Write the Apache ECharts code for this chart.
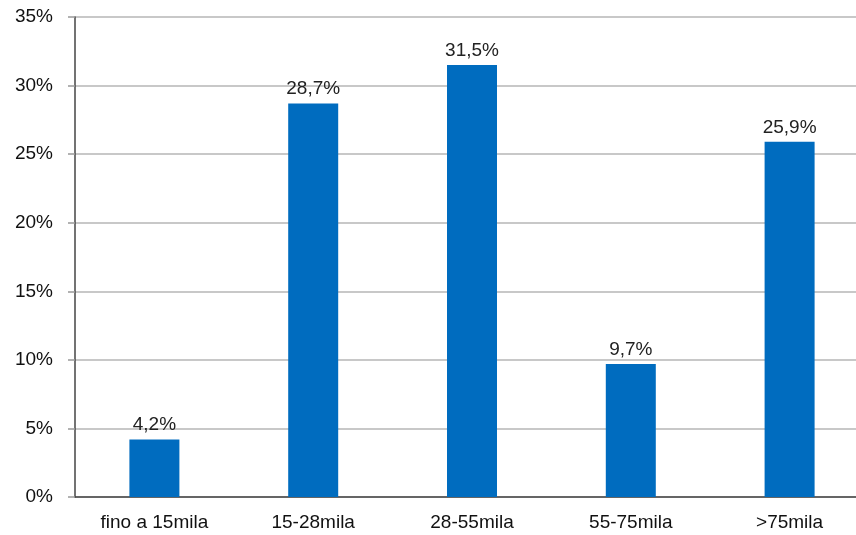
<!DOCTYPE html>
<html><head><meta charset="utf-8">
<script src="https://cdn.jsdelivr.net/npm/echarts@6/dist/echarts.min.js"></script>
<style>html,body{margin:0;padding:0;background:#fff}#c{width:856px;height:535px}</style>
</head><body><div id="c"></div>
<script>
const categories = ['fino a 15mila', '15-28mila', '28-55mila', '55-75mila', '>75mila'];
const values = [4.2, 28.7, 31.5, 9.7, 25.9];
const yTicks = [0, 5, 10, 15, 20, 25, 30, 35];

const FONT = 'Liberation Sans, Arial, sans-serif';
const chart = echarts.init(document.getElementById('c'), null, {renderer: 'canvas'});
chart.setOption({
  animation: false,
  grid: {left: 75, top: 17, width: 794, height: 480, containLabel: false, outerBoundsMode: 'none'},
  xAxis: {
    type: 'category', data: categories,
    axisLine: {lineStyle: {color: '#444', width: 1.5}},
    axisTick: {show: false},
    axisLabel: {color: '#111', fontFamily: FONT, fontSize: 19, margin: 16}
  },
  yAxis: {
    type: 'value', min: 0, max: 35, interval: 5,
    axisLine: {show: true, lineStyle: {color: '#444', width: 1.5}},
    axisTick: {show: true, length: 7, lineStyle: {color: '#999', width: 1.5}},
    splitLine: {lineStyle: {color: '#c8c8c8', width: 2}},
    axisLabel: {color: '#111', fontFamily: FONT, fontSize: 19, margin: 22,
      formatter: v => yTicks.includes(v) ? v + '%' : ''}
  },
  series: [{
    type: 'bar', data: values, barWidth: 50,
    itemStyle: {color: '#006CBF'},
    label: {show: true, position: 'top', distance: 5, color: '#222',
      fontFamily: FONT, fontSize: 19,
      formatter: p => p.value.toFixed(1).replace('.', ',') + '%'}
  }]
});
</script></body></html>
